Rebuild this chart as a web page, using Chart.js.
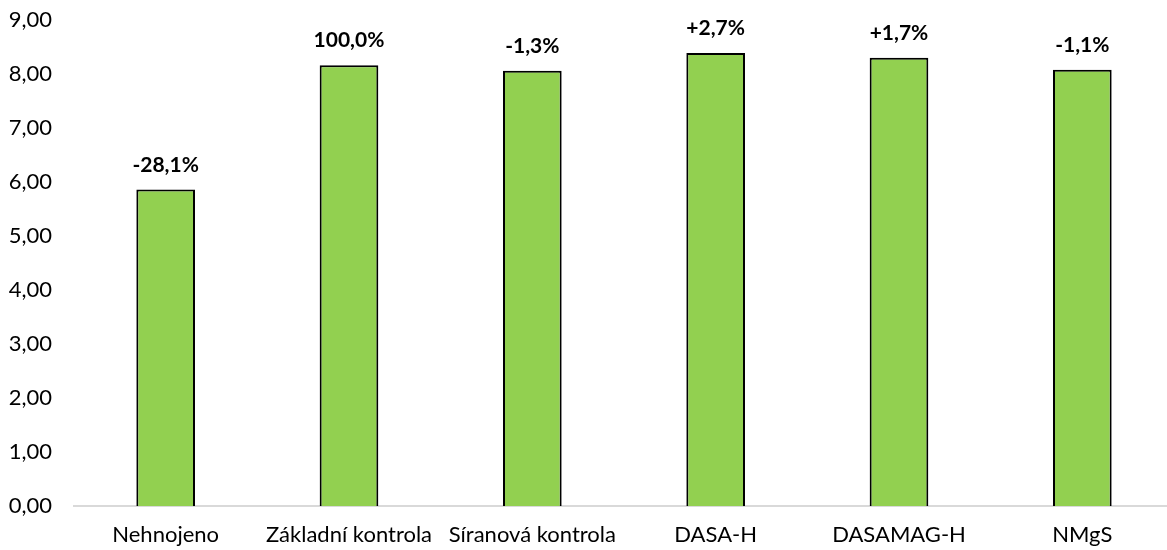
<!DOCTYPE html>
<html><head><meta charset="utf-8">
<script src="https://cdn.jsdelivr.net/npm/chart.js@4.4.0/dist/chart.umd.min.js"></script>
<style>html,body{margin:0;padding:0;background:#fff;overflow:hidden}#wrap{width:1174px;height:550px;position:relative}</style>
</head><body><div id="wrap"><canvas id="c"></canvas></div>
<script>
const categories = ['Nehnojeno','Základní kontrola','Síranová kontrola','DASA-H','DASAMAG-H','NMgS'];
const values = [5.86, 8.16, 8.06, 8.39, 8.30, 8.08];
const dataLabels = ['-28,1%','100,0%','-1,3%','+2,7%','+1,7%','-1,1%'];
const yTicks = [0,1,2,3,4,5,6,7,8,9];

const FONT = 'Lato, "Open Sans", sans-serif';
const labelPlugin = {
  id: 'barLabels',
  afterDatasetsDraw(chart) {
    const ctx = chart.ctx;
    const meta = chart.getDatasetMeta(0);
    ctx.save();
    ctx.font = 'bold 21px ' + FONT;
    ctx.fillStyle = '#000';
    ctx.textAlign = 'center';
    ctx.textBaseline = 'alphabetic';
    meta.data.forEach((bar, i) => {
      ctx.fillText(dataLabels[i], bar.x, bar.y - 18);
    });
    ctx.restore();
  }
};

new Chart(document.getElementById('c'), {
  type: 'bar',
  data: {
    labels: categories,
    datasets: [{
      data: values,
      backgroundColor: '#92D050',
      borderColor: '#000',
      borderWidth: 2,
      borderSkipped: 'bottom',
      barPercentage: 0.64,
      categoryPercentage: 0.5
    }]
  },
  options: {
    responsive: true,
    maintainAspectRatio: false,
    animation: false,
    layout: { padding: { top: 20, right: 0, left: 0, bottom: 0 } },
    plugins: { legend: { display: false }, tooltip: { enabled: false } },
    scales: {
      y: {
        min: 0, max: 9,
        afterBuildTicks(scale) { scale.ticks = yTicks.map(v => ({ value: v })); },
        afterFit(scale) { scale.width = 74; scale.paddingTop = 0; scale.paddingBottom = 0; },
        grid: { display: false, drawTicks: false },
        border: { display: false },
        ticks: {
          padding: 22,
          color: '#000',
          font: { family: FONT, size: 22 },
          callback: v => Number(v).toFixed(2).replace('.', ',')
        }
      },
      x: {
        afterFit(scale) { scale.height = 44; scale.paddingLeft = 0; scale.paddingRight = 0; },
        grid: { display: false, drawTicks: false },
        border: { display: true, color: '#d9d9d9', width: 2 },
        ticks: {
          padding: 16,
          color: '#000',
          maxRotation: 0,
          autoSkip: false,
          font: { family: FONT, size: 22 }
        }
      }
    }
  },
  plugins: [labelPlugin]
});
</script></body></html>
